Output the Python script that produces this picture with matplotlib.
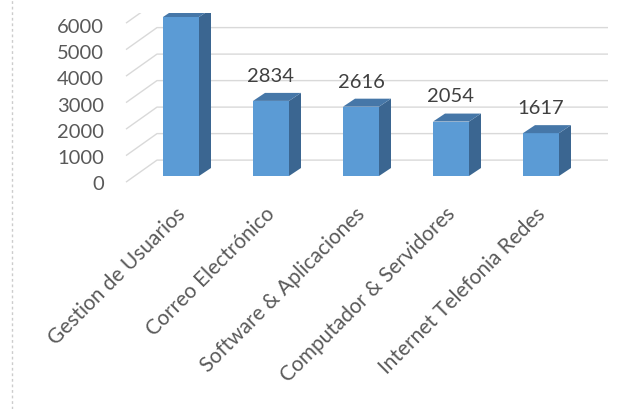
import matplotlib
matplotlib.use('Agg')
import matplotlib.pyplot as plt
from matplotlib.patches import Polygon
from matplotlib.lines import Line2D

# Chart data
categories = ['Gestion de Usuarios', 'Correo Electrónico', 'Software & Aplicaciones',
              'Computador & Servidores', 'Internet Telefonia Redes']
values = [6000, 2834, 2616, 2054, 1617]
y_ticks = [0, 1000, 2000, 3000, 4000, 5000, 6000]
y_max = 6000

plt.rcParams['font.family'] = ['Lato', 'DejaVu Sans']

fig = plt.figure(figsize=(6.33, 4.10), dpi=100)
# plot area starts 14 px below the top edge
top_px = 14
ax = fig.add_axes([0, 0, 1, (410 - top_px) / 410])
ax.axis('off')

# one category = 90 px, 1000 units = 26.5 px, bar 0 centre at x=181, value 0 at y=177
px_x = 90.0
px_y = 0.0265
ax.set_xlim(-181 / px_x, (633 - 181) / px_x)
ax.set_ylim((177 - 410) / px_y, (177 - top_px) / px_y)

# fake 3D depth
dx = 12 / px_x
dy = 8 / px_y
width = 0.4

front_c = '#5b9bd5'
side_c = '#3b6691'
top_c = '#4677a8'
grid_c = '#d9d9d9'

# back wall gridlines with the diagonal floor/wall segments
wall_x0 = (157 - 181) / px_x
wall_x1 = (608 - 181) / px_x
front_x = (126 - 181) / px_x
for t in y_ticks:
    ax.plot([front_x, wall_x0, wall_x1], [t - 230, t + 600, t + 600],
            color=grid_c, lw=1, zorder=1, solid_capstyle='butt')
    ax.text((104 - 181) / px_x, -491 + t * 0.9875, str(t), ha='right', va='baseline',
            fontsize=14.5, color='#595959', clip_on=False)

# bars
xs = list(range(len(categories)))
heights = [min(v, y_max) for v in values]
ax.bar(xs, heights, width=width, color=front_c, zorder=3)
for x, h in zip(xs, heights):
    r = x + width / 2
    l = x - width / 2
    ax.add_patch(Polygon([(r, 0), (r + dx, dy), (r + dx, h + dy), (r, h)],
                         closed=True, color=side_c, zorder=3, lw=0))
    ax.add_patch(Polygon([(l, h), (r, h), (r + dx, h + dy), (l + dx, h + dy)],
                         closed=True, color=top_c, zorder=3, lw=0))

# data labels (the first one sits above the cropped top)
for x, v in zip(xs, values):
    if v < y_max:
        ax.annotate(str(v), (x, v), xytext=(0, 14.5), textcoords='offset points',
                    ha='center', va='baseline', fontsize=14.5, color='#404040')

# category labels, right end anchored just left of each bar centre
for x, name in zip(xs, categories):
    ax.text(x - 6 / px_x, (177 - 204) / px_y, name,
            rotation=45, rotation_mode='anchor', ha='right', va='top',
            fontsize=15, color='#595959')

# dashed chart border on the left
fig.add_artist(Line2D([12 / 633, 12 / 633], [0, 1], color='#cccccc', lw=1,
                      ls=(0, (2, 2))))

fig.savefig('out.png', dpi=100)
